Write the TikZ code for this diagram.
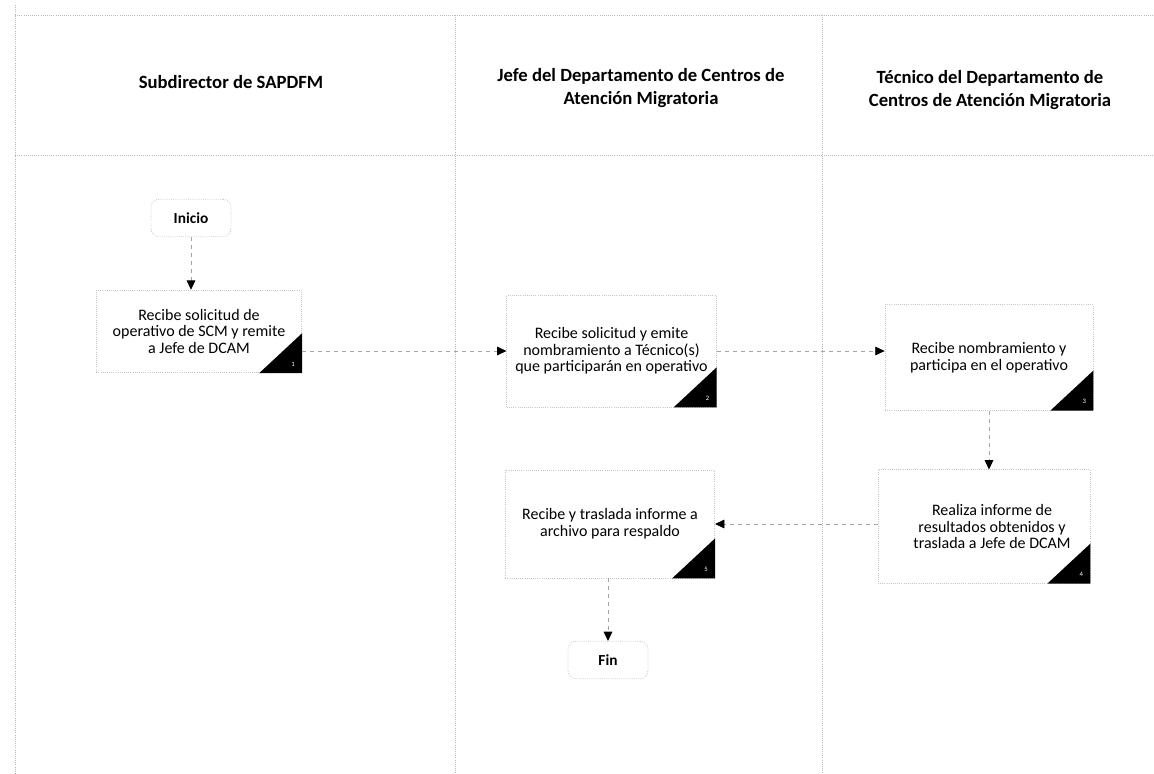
\documentclass[tikz,border=0pt]{standalone}
\usepackage{fontspec}
\setmainfont{Carlito}
\usetikzlibrary{calc,arrows.meta}
\begin{document}
\begin{tikzpicture}[x=0.75pt,y=-0.75pt,
  lane/.style={draw=gray!55, densely dotted, line width=0.6pt},
  hdr/.style={font=\fontsize{14}{17.5}\selectfont\bfseries, align=center, inner sep=0pt},
  task/.style={draw=gray!45, densely dotted, line width=0.6pt, align=center,
     font=\fontsize{12}{12.5}\selectfont, inner sep=2pt},
  term/.style={draw=gray!45, densely dotted, rounded corners=6pt, line width=0.6pt,
     font=\fontsize{11.5}{13}\selectfont\bfseries, minimum width=60pt, minimum height=28pt},
  conn/.style={draw=gray!70, dashed, line width=0.6pt, -{Triangle[length=7pt,width=6.5pt,color=black]}},
  tri/.style={fill=black},
  num/.style={text=white, font=\fontsize{5}{5}\selectfont, inner sep=0pt}
]
\useasboundingbox (0,0) rectangle (1154,774);
% swimlane frame
\draw[lane] (15,15) -- (1154,15);
\draw[lane] (15,155) -- (1154,155);
\draw[lane] (15,5) -- (15,774);
\draw[lane] (455,15) -- (455,774);
\draw[lane] (822,15) -- (822,774);
% headers
\node[hdr] (h1) at (231,82) {Subdirector de SAPDFM};
\node[hdr] (h2) at (641,88) {Jefe del Departamento de Centros de\\Atención Migratoria};
\node[hdr] (h3) at (990,90) {Técnico del Departamento de\\Centros de Atención Migratoria};
% terminators
\node[term] (ini) at (191,218) {Inicio};
\node[term] (fin) at (608,660) {Fin};
% tasks
\node[task, minimum width=154pt, minimum height=62pt] (b1) at (199,331.5)
  {Recibe solicitud de\\operativo de SCM y remite\\a Jefe de DCAM};
\node[task, minimum width=157pt, minimum height=84pt] (b2) at (611.5,351)
  {Recibe solicitud y emite\\nombramiento a Técnico(s)\\que participarán en operativo};
\node[task, minimum width=156pt, minimum height=79pt] (b3) at (989,357.5)
  {Recibe nombramiento y\\participa en el operativo};
\node[task, minimum width=159pt, minimum height=85pt] (b4) at (984,526.5)
  {\hspace*{12pt}Realiza informe de\\\hspace*{12pt}resultados obtenidos y\\\hspace*{12pt}traslada a Jefe de DCAM};
\node[task, minimum width=157pt, minimum height=81pt] (b5) at (610,524)
  {Recibe y traslada informe a\\archivo para respaldo};
% corner triangles with numbers
\foreach \b/\n in {b1/1,b2/2,b3/3,b4/4,b5/5}{
  \fill[tri] (\b.south east) -- ($(\b.south east)+(-43,0)$) -- ($(\b.south east)+(0,-40)$) -- cycle;
  \node[num] (n\n) at ($(\b.south east)+(-9,-9)$) {\n};
}
% connectors
\draw[conn] (ini.south) -- (ini.south |- b1.north);
\draw[conn] (b1.east |- b2.west) -- (b2.west);
\draw[conn] (b2.east) -- (b2.east -| b3.west);
\draw[conn] (b3.south) -- (b3.south |- b4.north);
\draw[conn] (b4.west |- b5.east) -- (b5.east);
\draw[conn] (b5.south -| fin.north) -- (fin.north);
\end{tikzpicture}
\end{document}
